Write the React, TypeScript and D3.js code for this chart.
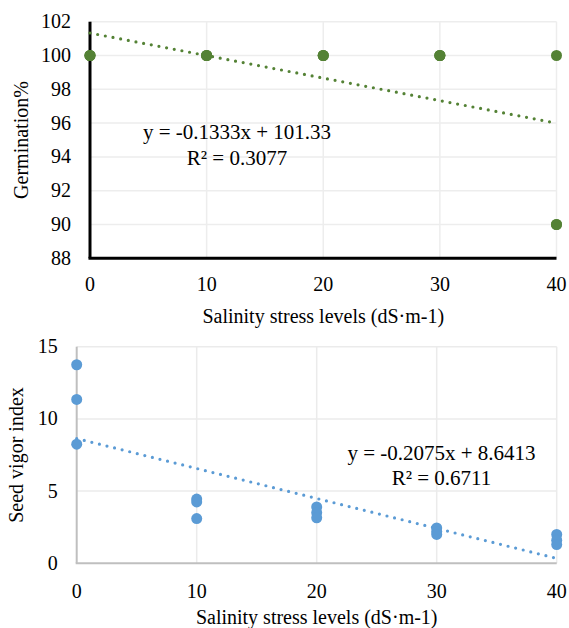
import React from 'react'
import * as d3 from 'd3'

// salinity levels (dS·m-1), three replicates each
const levels = [0, 10, 20, 30, 40]
const salinity = [0, 0, 0, 10, 10, 10, 20, 20, 20, 30, 30, 30, 40, 40, 40]
const germination = [100, 100, 100, 100, 100, 100, 100, 100, 100, 100, 100, 100, 100, 90, 90]
const vigor = [13.75, 11.35, 8.25, 4.45, 4.25, 3.1, 3.9, 3.5, 3.15, 2.45, 2.2, 2.0, 2.0, 1.6, 1.3]
const germTicks = [88, 90, 92, 94, 96, 98, 100, 102]
const vigorTicks = [0, 5, 10, 15]
const germTrend = [-0.1333, 101.33]
const vigorTrend = [-0.2075, 8.6413]
const germEq = ['y = -0.1333x + 101.33', 'R² = 0.3077']
const vigorEq = ['y = -0.2075x + 8.6413', 'R² = 0.6711']

// whole pixel sizes only, fractional ones fall back to a sans face here
const FONT = '"Liberation Serif"'

const Panel = ({ o }) => {
  const x = d3.scaleLinear().domain([0, 40]).range(o.xRange)
  const y = d3.scaleLinear().domain(o.yDomain).range(o.yRange)
  const [x0, x1] = o.xRange
  const [yb, yt] = o.yRange
  const line = d3.line().x(d => x(d)).y(d => y(o.trend[0] * d + o.trend[1]))

  return (
    <g fontFamily={FONT} fontSize={20}>
      {/* grid */}
      {o.yTicks.slice(1).map(t => (
        <line key={'h' + t} x1={x0} x2={x1} y1={y(t)} y2={y(t)} stroke={o.gridColor} strokeWidth={1.5} />
      ))}
      {levels.slice(1).map(t => (
        <line key={'v' + t} x1={x(t)} x2={x(t)} y1={yt} y2={yb} stroke={o.gridColor} strokeWidth={1.5} />
      ))}

      {/* axes */}
      <line x1={x0} x2={x0} y1={yt} y2={yb} stroke={o.axisColor} strokeWidth={o.axisWidth} />
      <line x1={x0 - o.axisWidth / 2} x2={x1} y1={yb} y2={yb} stroke={o.axisColor} strokeWidth={o.axisWidth} />
      {o.yTicks.map(t => (
        <text key={'yl' + t} x={x0 - o.yPad} y={y(t)} dy="0.32em" textAnchor="end">{t}</text>
      ))}
      {levels.map(t => (
        <text key={'xl' + t} x={x(t)} y={yb + o.xPad} dy="0.71em" textAnchor="middle">{t}</text>
      ))}

      {/* trend line */}
      <path d={line([0, 40])} fill="none" stroke={o.color} strokeWidth={3.2}
        strokeLinecap="round" strokeDasharray="0 7.8" />

      {/* points */}
      {o.values.map((v, i) => (
        <circle key={'p' + i} cx={x(salinity[i])} cy={y(v)} r={5.5} fill={o.color} />
      ))}

      {/* equation */}
      {o.eq.map((t, i) => (
        <text key={'eq' + i} x={o.eqPos[0]} y={o.eqPos[1] + i * o.eqGap} textAnchor="middle" fontSize={21}>{t}</text>
      ))}

      {/* titles */}
      <text x={(x0 + x1) / 2} y={o.xTitleY} textAnchor="middle">Salinity stress levels (dS·m-1)</text>
      <text transform={`translate(${o.yTitle[0]},${o.yTitle[1]}) rotate(-90)`} textAnchor="middle">{o.yLabel}</text>
    </g>
  )
}

const top = {
  xRange: [90, 556.5], yDomain: [88, 102], yRange: [258.3, 21.7],
  yTicks: germTicks, values: germination, trend: germTrend, eq: germEq,
  color: '#548235', gridColor: '#ededed', axisColor: '#000', axisWidth: 3,
  yPad: 19, xPad: 18, eqPos: [237, 139], eqGap: 26,
  xTitleY: 323, yTitle: [28, 140], yLabel: 'Germination%'
}
const bottom = {
  xRange: [76.7, 556.7], yDomain: [0, 15], yRange: [563.3, 346.7],
  yTicks: vigorTicks, values: vigor, trend: vigorTrend, eq: vigorEq,
  color: '#5b9bd5', gridColor: '#ebebeb', axisColor: '#bfbfbf', axisWidth: 2,
  yPad: 19, xPad: 20, eqPos: [441.5, 460], eqGap: 25,
  xTitleY: 624, yTitle: [23, 455], yLabel: 'Seed vigor index'
}

const App = () => (
  <svg width={569} height={628} style={{ position: 'absolute', left: 0, top: 0, background: '#fff' }}>
    <Panel o={top} />
    <Panel o={bottom} />
  </svg>
)

export default App
